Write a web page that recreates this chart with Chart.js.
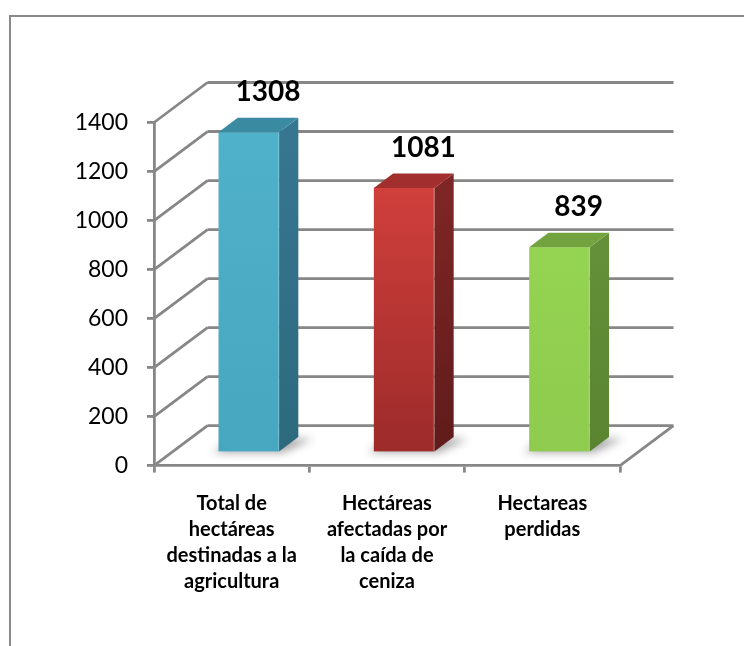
<!DOCTYPE html>
<html>
<head>
<meta charset="utf-8">
<script src="https://cdn.jsdelivr.net/npm/chart.js@4/dist/chart.umd.min.js"></script>
<style>
  html, body { margin: 0; padding: 0; background: #fff; overflow: hidden; }
  #marco { position: absolute; left: 9px; top: 15px; width: 800px; height: 700px; border: 2px solid #8a8a8a; }
  #grafico { position: absolute; left: 0; top: 0; }
</style>
</head>
<body>
<div id="marco"></div>
<canvas id="grafico" width="744" height="646"></canvas>
<script>
// datos del gráfico
const categorias = [
  ['Total de', 'hectáreas', 'destinadas a la', 'agricultura'],
  ['Hectáreas', 'afectadas por', 'la caída de', 'ceniza'],
  ['Hectareas', 'perdidas'],
];
const valores = [1308, 1081, 839];
const marcasEjeY = [0, 200, 400, 600, 800, 1000, 1200, 1400];

// colores de cada barra (frente, lado, tapa)
const coloresFrente = [['#50B1CB', '#47A6C0'], ['#D03F3B', '#9C2B2A'], ['#95D352', '#8ECB4E']];
const coloresLado = [['#367690', '#2D6A7E'], ['#7E2625', '#601B1B'], ['#64903A', '#5A842F']];
const coloresTapa = ['#3A8BA2', '#A22F2D', '#72A33F'];

// profundidad de la perspectiva 3D
const PX = 53.5;
const PY = -40;
const F1 = 0.32; // cara delantera de la barra
const F2 = 0.68; // cara trasera de la barra
const GRIS = '#878787';

const paredes = {
  id: 'paredes',
  beforeDatasetsDraw(chart) {
    const { ctx, chartArea: a, scales: { y } } = chart;
    ctx.save();
    ctx.strokeStyle = GRIS;
    ctx.lineWidth = 2.8;
    ctx.beginPath();
    marcasEjeY.forEach(v => {
      const py = y.getPixelForValue(v);
      // línea de la pared del fondo
      ctx.moveTo(a.left + PX, py + PY);
      ctx.lineTo(a.right + PX, py + PY);
      // línea de la pared lateral
      ctx.moveTo(a.left, py);
      ctx.lineTo(a.left + PX, py + PY);
    });
    // borde derecho del piso
    ctx.moveTo(a.right, a.bottom);
    ctx.lineTo(a.right + PX, a.bottom + PY);
    ctx.stroke();
    ctx.restore();
  },
};

const barras3d = {
  id: 'barras3d',
  afterDatasetsDraw(chart) {
    const { ctx } = chart;
    const meta = chart.getDatasetMeta(0);
    const dx = (F2 - F1) * PX;
    const dy = (F2 - F1) * PY;
    meta.data.forEach((el, i) => {
      const x0 = el.x - el.width / 2 + F1 * PX;
      const x1 = el.x + el.width / 2 + F1 * PX;
      const yt = el.y + F1 * PY;
      const yb = el.base + F1 * PY;

      // sombra sobre el piso
      ctx.save();
      ctx.filter = 'blur(4px)';
      ctx.fillStyle = 'rgba(0,0,0,0.35)';
      ctx.beginPath();
      ctx.moveTo(x0 - 6, yb + 1);
      ctx.lineTo(x1 + 4, yb + 1);
      ctx.lineTo(x1 + dx + 14, yb + dy + 2);
      ctx.lineTo(x0 + dx, yb + dy);
      ctx.closePath();
      ctx.fill();
      ctx.restore();

      // cara delantera
      let g = ctx.createLinearGradient(0, yt, 0, yb);
      g.addColorStop(0, coloresFrente[i][0]);
      g.addColorStop(1, coloresFrente[i][1]);
      ctx.fillStyle = g;
      ctx.fillRect(x0, yt, x1 - x0, yb - yt);

      // cara lateral
      g = ctx.createLinearGradient(0, yt, 0, yb);
      g.addColorStop(0, coloresLado[i][0]);
      g.addColorStop(1, coloresLado[i][1]);
      ctx.fillStyle = g;
      ctx.beginPath();
      ctx.moveTo(x1, yt);
      ctx.lineTo(x1 + dx, yt + dy);
      ctx.lineTo(x1 + dx, yb + dy);
      ctx.lineTo(x1, yb);
      ctx.closePath();
      ctx.fill();

      // tapa
      ctx.fillStyle = coloresTapa[i];
      ctx.beginPath();
      ctx.moveTo(x0, yt);
      ctx.lineTo(x1, yt);
      ctx.lineTo(x1 + dx, yt + dy);
      ctx.lineTo(x0 + dx, yt + dy);
      ctx.closePath();
      ctx.fill();

      // brillo en la arista
      ctx.strokeStyle = 'rgba(255,255,255,0.25)';
      ctx.lineWidth = 1;
      ctx.beginPath();
      ctx.moveTo(x1 - 0.5, yt);
      ctx.lineTo(x1 - 0.5, yb);
      ctx.stroke();

      // etiqueta del valor
      ctx.fillStyle = '#000';
      ctx.font = 'bold 28px Lato';
      ctx.textAlign = 'center';
      ctx.textBaseline = 'bottom';
      ctx.fillText(String(valores[i]), (x0 + x1) / 2 + dx, el.y + F2 * PY - 12);
    });
  },
};

new Chart(document.getElementById('grafico'), {
  type: 'bar',
  data: {
    labels: categorias,
    datasets: [{
      data: valores,
      backgroundColor: 'rgba(0,0,0,0)',
      borderWidth: 0,
      categoryPercentage: 1,
      barPercentage: 0.39,
    }],
  },
  options: {
    responsive: false,
    devicePixelRatio: 1,
    animation: false,
    layout: { padding: { top: 122.5, right: 124, left: 0, bottom: 0 } },
    plugins: { legend: { display: false }, tooltip: { enabled: false } },
    scales: {
      x: {
        grid: { offset: true, drawOnChartArea: false, drawTicks: true, tickLength: 7, color: GRIS, lineWidth: 2.8 },
        border: { display: true, color: GRIS, width: 2.8 },
        ticks: {
          color: '#000',
          font: { family: 'Lato', size: 20, weight: 'bold', lineHeight: 1.3 },
          padding: 18,
          maxRotation: 0,
          autoSkip: false,
        },
        afterFit: s => { s.height = 646 - 465.6; },
      },
      y: {
        min: 0,
        max: 1400,
        afterBuildTicks: s => { s.ticks = marcasEjeY.map(v => ({ value: v })); },
        grid: { drawOnChartArea: false, drawTicks: true, tickLength: 7, color: GRIS, lineWidth: 2.8 },
        border: { display: true, color: GRIS, width: 2.8 },
        ticks: { color: '#000', font: { family: 'Lato', size: 23 }, padding: 19, callback: v => String(v) },
        afterFit: s => { s.width = 154; },
      },
    },
  },
  plugins: [paredes, barras3d],
});
</script>
</body>
</html>
